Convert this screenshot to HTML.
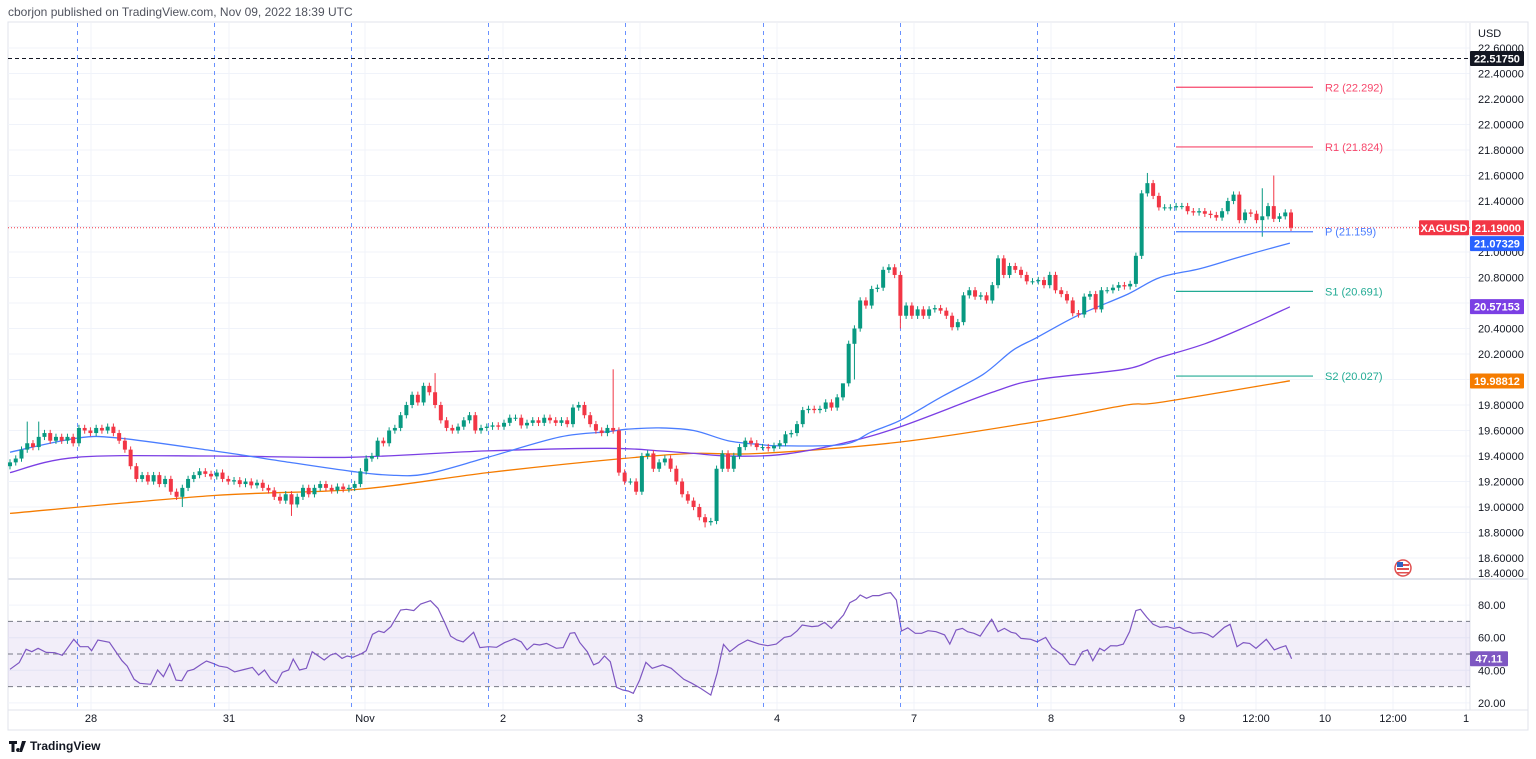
<!DOCTYPE html>
<html><head><meta charset="utf-8">
<style>
html,body{margin:0;padding:0;background:#fff;}
svg{display:block;font-family:"Liberation Sans",sans-serif;}
</style></head>
<body>
<svg id="chart" width="1536" height="759" viewBox="0 0 1536 759" xmlns="http://www.w3.org/2000/svg">
<text x="8" y="16" font-size="12" fill="#50535e">cborjon published on TradingView.com, Nov 09, 2022 18:39 UTC</text>
<rect x="8" y="22" width="1520" height="708" fill="none" stroke="#e0e3eb"/>
<g id="grid"></g>
<g id="rsiPane"></g>
<g id="vlines"></g>
<g id="mas"></g>
<g id="candles"></g>
<g id="pivots"></g>
<g id="axis"></g>
<g id="taxis"></g>
<g>
<path d="M9 741h8v3h-2.5v8h-3v-8H9z M18 748a2 2 0 1 0 0.1 0z M22 741h4l-4 11h-3z" fill="#131722"/>
<text x="30" y="750" font-size="12" font-weight="bold" fill="#131722">TradingView</text>
</g>
<g>
<circle cx="1403" cy="568" r="8" fill="#fff" stroke="#e05050" stroke-width="1.5"/>
<rect x="1397" y="564" width="12" height="2" fill="#e05050"/><rect x="1397" y="568" width="12" height="2" fill="#e05050"/><rect x="1397" y="572" width="12" height="1.5" fill="#e05050"/>
<rect x="1397" y="562" width="6" height="5" fill="#3060c0"/>
</g>
</svg>
<script>
const closes = [
19.35,19.38,19.45,19.50,19.47,19.55,19.58,19.52,19.55,19.52,
19.55,19.50,19.62,19.60,19.58,19.62,19.60,19.63,19.58,19.52,
19.45,19.32,19.22,19.25,19.20,19.25,19.18,19.22,19.12,19.08,
19.15,19.22,19.25,19.28,19.26,19.24,19.27,19.22,19.20,19.21,
19.18,19.20,19.17,19.19,19.15,19.13,19.08,19.05,19.10,19.02,
19.08,19.15,19.10,19.15,19.18,19.15,19.13,19.16,19.14,19.15,
19.18,19.28,19.38,19.40,19.52,19.50,19.60,19.62,19.72,19.80,
19.88,19.82,19.95,19.90,19.80,19.68,19.62,19.60,19.63,19.68,
19.72,19.60,19.62,19.63,19.64,19.63,19.66,19.70,19.70,19.64,
19.66,19.68,19.66,19.70,19.68,19.66,19.68,19.65,19.78,19.80,
19.72,19.65,19.60,19.58,19.62,19.60,
19.27,19.20,19.20,19.12,19.40,19.42,19.30,19.35,19.38,19.30,
19.20,19.10,19.05,19.00,18.92,18.88,18.89,19.30,19.42,19.30,
19.40,19.47,19.52,19.50,19.47,19.47,19.46,19.48,19.50,19.57,
19.58,19.65,19.76,19.77,19.76,19.77,19.82,19.78,19.86,19.97,
20.28,20.40,20.62,20.58,20.71,20.72,20.86,20.88,20.82,20.50,
20.58,20.50,20.55,20.50,20.55,20.56,20.54,20.50,20.41,20.45,20.66,20.70,
20.65,20.66,20.62,20.74,20.95,20.82,20.89,20.86,20.82,20.77,
20.77,20.78,20.74,20.82,20.70,20.67,20.62,20.52,20.51,20.65,
20.67,20.55,20.70,20.70,20.72,20.74,20.73,20.75,20.97,21.46,21.54,
21.44,21.35,
21.35,21.35,21.36,21.36,21.32,21.31,21.32,21.30,21.29,21.27,
21.32,21.40,21.45,21.25,21.31,21.30,21.25,21.28,21.36,21.26,
21.28,21.31,21.19];
const spikeIdx = [3,5,74,105,145,198,218,220];
const spikeHigh = [19.67,19.67,20.05,20.08,19.88,21.62,21.50,21.60];
const dipIdx = [30,49,121,147,155,218];
const dipLow = [19.00,18.93,18.84,20.00,20.40,21.12];
const ma50Idx = [0,11.7,19,35.5,48.7,59.4,66,72.6,83.2,95.8,104,107.4,113,119,125,130.6,134,145,150,155,162.4,169.4,174.6,178.8,185.8,194.6,200.2,207.2,214,222.8];
const ma50Val = [19.43,19.54,19.54,19.44,19.35,19.28,19.25,19.26,19.39,19.55,19.59,19.61,19.62,19.60,19.52,19.49,19.48,19.49,19.59,19.68,19.87,20.04,20.23,20.33,20.50,20.67,20.80,20.87,20.96,21.07];
const ma100Idx = [0,11.7,35.5,59,83,104,113,119,125,134,145,155,171,179,194,200,208,216,222.8];
const ma100Val = [19.27,19.39,19.40,19.39,19.44,19.46,19.44,19.42,19.40,19.41,19.50,19.63,19.90,20.00,20.08,20.17,20.28,20.43,20.57];
const ma200Idx = [0,35.5,61,83.2,106.7,119,130.6,155,178.8,194.4,200.2,222.8];
const ma200Val = [18.95,19.09,19.14,19.27,19.38,19.42,19.42,19.51,19.67,19.80,19.82,19.99];
const rsiIdx = [0,1.6,2.8,3.8,4.9,6.3,7.8,9.1,11.1,12.2,13.6,14.2,15.3,17.3,19.5,20.4,21.6,22.6,24.5,25.7,26.7,27.8,28.9,29.9,30.9,32,33.3,34.2,35.3,36.4,37.8,39.1,40.4,42.2,43.3,44.3,45.4,46.4,47.4,48.5,49.3,50.4,51.6,52.6,54.7,55.8,56.7,57.8,58.7,59.7,61.3,62,63.1,64.2,65.1,66.3,68,69,70.3,71.5,73.2,74.5,75.6,76.7,77.8,78.9,80.7,81.8,83.3,84.7,86.1,87.8,89,90,91.2,92.2,93.4,95.1,96.3,97.5,98.3,99.2,100.5,101.6,102.5,103.5,104.5,105.6,106.7,107.6,108.5,109.6,110.7,111.8,113.6,115.1,117.3,118.7,120.2,122,123.1,124.2,125.3,126.8,128.4,130.4,131.9,133.4,134.8,135.9,137,137.9,139.6,140.7,141.8,143,145.1,146.2,147.3,148,149.1,150.2,151.3,152.4,153.3,154.3,155.2,156.3,157.6,158.7,159.8,161.2,162.7,163.6,164.7,165.8,166.7,167.8,168.9,170,170.9,172,173.1,174.3,175.1,176,177.7,178.8,180.3,181.4,183.2,184.5,185.4,186.7,187.6,188.5,189.7,190.5,191.6,192.7,193.8,194.9,196,196.8,197.9,199,200.2,201.4,202.6,203.6,204.6,205.9,207.4,208.5,209.4,211.4,212.4,213.6,214.7,215.8,216.9,218.7,220.1,221.1,222.1,223.1];
const rsiVal = [40.6,44.7,52.9,51.4,53.5,51,50.8,49.2,59,54.5,54.5,52,58.6,57.2,45.9,42.6,34.5,32,31.4,40.2,36.1,43.9,34,33.6,39.6,40.6,43.7,45.7,44.3,42.6,41.8,39,40.2,41.8,37.1,40.2,34.5,32,38.8,40.2,46.9,40.2,41.2,51.4,46.3,49.4,50.4,47.3,48.8,48,50.4,52,62.1,64.1,63.1,66.8,77,77.4,76.6,80.7,82.7,78,69.8,61,58.6,57.4,63.3,53.9,54.5,54.1,57,59.4,57.4,52.5,56.1,55.5,56.5,53.5,53.9,62.7,63.1,57,51.4,43.3,44.7,48.8,45.3,29.6,27.9,27.3,25.9,34,44.9,41.2,43.3,41.2,34.5,32,29,24.8,38.2,55.9,51.4,55.5,58.6,56.1,55.1,56.1,60.2,61,64.1,67.8,66.8,67.2,69.4,65.7,73.9,81.5,83.5,86.2,84.2,85.8,85.8,87.2,87.6,83.1,64.1,66.1,62.7,62.7,64.3,63.7,61.7,56.1,64.7,65.7,63.7,62.7,61,66.8,71.3,63.7,65.7,63.3,62.7,59.6,59,57.5,60.2,53.9,49.4,43.7,43.3,51.4,52.5,45.9,53.5,51.9,55.1,55,56.1,63.7,76.6,77.4,72.5,68.2,66.4,66.8,65.7,66.4,64.3,62.7,63.1,62.1,60.2,66.4,68.2,54.5,57,56.5,53.5,59,52.5,53.9,55.1,47.11];
const priceTicks = ["22.60000","22.40000","22.20000","22.00000","21.80000","21.60000","21.40000","21.20000","21.00000","20.80000","20.60000","20.40000","20.20000","20.00000","19.80000","19.60000","19.40000","19.20000","19.00000","18.80000","18.60000","18.40000"];
const rsiTicks = [80,60,40,20];
const timeLabels = ["28","31","Nov","2","3","4","7","8","9","12:00","10","12:00","1"];
const timeLabelX = [91,229,365,503,640,777,914,1051,1182,1256,1325,1393,1466];
const sessionIdx = [11.7,35.5,59.4,83.2,107.1,131.1,155,178.8,202.6];
const pivotNames = ["R2","R1","P","S1","S2"];
const pivotVals = [22.292,21.824,21.159,20.691,20.027];

const NS="http://www.w3.org/2000/svg";
const X0=10, STEP=1281/(closes.length-1), PLEFT=8, PRIGHT=1470;
const xs=i=>X0+i*STEP;
const py=p=>201-(p-21.4)*127.5;
const ry=v=>654-(v-50)*1.63;
function mk(tag,attrs,parent){const e=document.createElementNS(NS,tag);for(const k in attrs)e.setAttribute(k,attrs[k]);parent.appendChild(e);return e;}
const G=id=>document.getElementById(id);

const grid=G('grid');
priceTicks.forEach(t=>{const y=py(parseFloat(t));if(y>24&&y<579){const l=mk('line',{x1:PLEFT,x2:PRIGHT,y1:y,y2:y,stroke:'#f0f3fa'},grid);}});
timeLabelX.forEach(x=>{const l=mk('line',{x1:x,x2:x,y1:23,y2:710,stroke:'#f0f3fa'},grid);});
rsiTicks.forEach(v=>{mk('line',{x1:PLEFT,x2:PRIGHT,y1:ry(v),y2:ry(v),stroke:'#f0f3fa'},grid);});
mk('line',{x1:PLEFT,x2:1528,y1:579,y2:579,stroke:'#e0e3eb','stroke-width':2},grid);
mk('line',{x1:PRIGHT,x2:PRIGHT,y1:23,y2:710,stroke:'#e0e3eb'},grid);
mk('line',{x1:PLEFT,x2:1528,y1:710,y2:710,stroke:'#e0e3eb'},grid);

const rp=G('rsiPane');
const band=mk('rect',{x:PLEFT,y:ry(70),width:PRIGHT-PLEFT,height:ry(30)-ry(70),fill:'#7e57c2','fill-opacity':0.1},rp);

[70,50,30].forEach(v=>{const l=mk('line',{x1:PLEFT,x2:PRIGHT,y1:ry(v),y2:ry(v),stroke:'#787b86','stroke-dasharray':'5 4','stroke-width':1},rp);});
let rd='';rsiIdx.forEach((i,k)=>{rd+=(k?'L':'M')+xs(i).toFixed(1)+' '+ry(rsiVal[k]).toFixed(1);});
const rl=mk('path',{d:rd,fill:'none',stroke:'#7e57c2','stroke-width':1.2},rp);


const vl=G('vlines');
sessionIdx.forEach(i=>{const x=Math.round(xs(i))+0.5;const l=mk('line',{x1:x,x2:x,y1:23,y2:710,stroke:'#2962ff','stroke-opacity':0.7,'stroke-dasharray':'4 4'},vl);});
const hl=mk('line',{x1:PLEFT,x2:PRIGHT,y1:py(22.5175),y2:py(22.5175),stroke:'#131722','stroke-dasharray':'4 3'},vl);

const lp=mk('line',{x1:PLEFT,x2:PRIGHT,y1:py(closes[closes.length-1]),y2:py(closes[closes.length-1]),stroke:'#f23645','stroke-dasharray':'1 2'},vl);


const mg=G('mas');
function smooth(pts){let d='M'+pts[0][0].toFixed(1)+' '+pts[0][1].toFixed(1);
  for(let k=0;k<pts.length-1;k++){const p0=pts[Math.max(0,k-1)],p1=pts[k],p2=pts[k+1],p3=pts[Math.min(pts.length-1,k+2)];
    const c1x=p1[0]+(p2[0]-p0[0])/6,c1y=p1[1]+(p2[1]-p0[1])/6,c2x=p2[0]-(p3[0]-p1[0])/6,c2y=p2[1]-(p3[1]-p1[1])/6;
    d+='C'+c1x.toFixed(1)+' '+c1y.toFixed(1)+' '+c2x.toFixed(1)+' '+c2y.toFixed(1)+' '+p2[0].toFixed(1)+' '+p2[1].toFixed(1);}
  return d;}
function maPath(idx,val,color,name){const pts=idx.map((i,k)=>[xs(i),py(val[k])]);const p=mk('path',{d:smooth(pts),fill:'none',stroke:color,'stroke-width':1.3,'stroke-linejoin':'round'},mg);}
maPath(ma200Idx,ma200Val,'#f57c00','ma-200');
maPath(ma100Idx,ma100Val,'#7b3fe4','ma-100');
maPath(ma50Idx,ma50Val,'#4a7dff','ma-50');

const cg=G('candles');
closes.forEach((c,i)=>{
  const o=i?closes[i-1]:c-0.03;
  let hi=Math.max(o,c)+0.025, lo=Math.min(o,c)-0.025;
  const si=spikeIdx.indexOf(i); if(si>=0) hi=spikeHigh[si];
  const di=dipIdx.indexOf(i); if(di>=0) lo=dipLow[di];
  const col=c>=o?'#089981':'#f23645';
  const x=xs(i);
  const g=mk('g',{},cg);
  
  
  mk('line',{x1:x,x2:x,y1:py(hi),y2:py(lo),stroke:col,'stroke-width':1},g);
  const top=py(Math.max(o,c)),bot=py(Math.min(o,c));
  mk('rect',{x:x-2,y:top,width:4,height:Math.max(1,bot-top),fill:col},g);
});

const pg=G('pivots');
const pcol=['#f7476b','#f7476b','#4a7dff','#22ab94','#22ab94'];
pivotVals.forEach((v,k)=>{const y=py(v);
  const l=mk('line',{x1:1176,x2:1313,y1:y,y2:y,stroke:pcol[k],'stroke-width':1.2},pg);
  
  const t=mk('text',{x:1325,y:y+4,'font-size':11,fill:pcol[k]},pg);t.textContent=pivotNames[k]+' ('+v.toFixed(3)+')';
  });

const ax=G('axis');
const u=mk('text',{x:1478,y:37,'font-size':11,fill:'#131722'},ax);u.textContent='USD';
priceTicks.forEach(t=>{const y=Math.min(py(parseFloat(t)),573);const e=mk('text',{x:1478,y:y+4,'font-size':11,fill:'#131722'},ax);e.textContent=t;});
rsiTicks.forEach(v=>{const e=mk('text',{x:1478,y:ry(v)+4,'font-size':11,fill:'#131722'},ax);e.textContent=v.toFixed(2);});
function tag(y,txt,bg,name,x,w){x=x||1470;w=w||54;const g=mk('g',{},ax);mk('rect',{x:x,y:y-7.5,width:w,height:15,fill:bg,rx:1},g);const t=mk('text',{x:x+w/2,y:y+4,'font-size':11,'font-weight':'bold',fill:'#fff','text-anchor':'middle'},g);t.textContent=txt;}
tag(py(22.5175),'22.51750','#131722','high-price-label');
tag(py(21.19),'21.19000','#f23645','last-price-label',1472,52);
tag(py(21.19),'XAGUSD','#f23645','symbol-label',1419,50);
tag(py(21.07329)+1,'21.07329','#2962ff','ma50-label');
tag(py(20.57153),'20.57153','#7b3fe4','ma100-label');
tag(py(19.98812),'19.98812','#f57c00','ma200-label');
tag(ry(47.11),'47.11','#7e57c2','rsi-value-label',1470,38);

const ta=G('taxis');
timeLabels.forEach((t,k)=>{const e=mk('text',{x:timeLabelX[k],y:722,'font-size':11,fill:'#131722','text-anchor':'middle'},ta);e.textContent=t;});
</script>
</body></html>
